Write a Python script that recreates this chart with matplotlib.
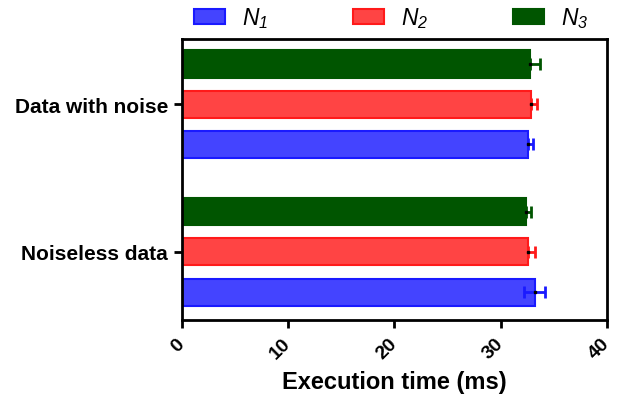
import matplotlib
matplotlib.use("Agg")
import matplotlib.pyplot as plt
import numpy as np

plt.rcParams['font.family'] = ['Liberation Sans', 'DejaVu Sans']
plt.rcParams['mathtext.fontset'] = 'custom'
plt.rcParams['mathtext.it'] = 'Liberation Sans:italic'
plt.rcParams['mathtext.rm'] = 'Liberation Sans:italic'

categories = ["Noiseless data", "Data with noise"]
series = [r"$N_{1}$", r"$N_{2}$", r"$N_{3}$"]
n1_vals = [33.2, 32.6]
n2_vals = [32.6, 32.9]
n3_vals = [32.4, 32.75]
# upper / lower error extents (ms)
n1_err_hi = [1.0, 0.4]
n2_err_hi = [0.6, 0.5]
n3_err_hi = [0.5, 1.0]
n1_err_lo = [1.0, 0.0]
n2_err_lo = [0.0, 0.0]
n3_err_lo = [0.0, 0.0]
xticks = [0, 10, 20, 30, 40]

fills = ["#4444ff", "#ff4444", "#005500"]
edges = ["#1a1aff", "#ff1a1a", "#005500"]

fig = plt.figure(figsize=(6.18, 4.02), dpi=100)
ax = fig.add_axes([0.2945, 0.2015, 0.6875, 0.699])

y = np.arange(len(categories))
step = 0.271
height = 0.183
values = [n1_vals, n2_vals, n3_vals]
errs_hi = [n1_err_hi, n2_err_hi, n3_err_hi]
errs_lo = [n1_err_lo, n2_err_lo, n3_err_lo]
handles = []
for i, vals in enumerate(values):
    pos = y + (i - 1) * step
    bars = ax.barh(pos, vals, height=height, color=fills[i], edgecolor=edges[i],
                   linewidth=1.5, label=series[i], zorder=2)
    ax.errorbar(vals, pos, xerr=[errs_lo[i], errs_hi[i]], fmt='none',
                ecolor=edges[i], elinewidth=2, capsize=4, capthick=2, zorder=3)
    ax.plot(vals, pos, ls='none', marker='s', ms=2, color='black', zorder=4)
    handles.append(bars)

ax.set_xlim(0, 40)
ax.set_ylim(-0.46, 1.44)
ax.set_yticks(y)
ax.set_yticklabels(categories, fontsize=15, fontweight='bold')
ax.set_xticks(xticks)
ax.set_xticklabels([str(t) for t in xticks], fontsize=14, fontweight='bold',
                   rotation=45, ha='right', va='center', rotation_mode='anchor')
ax.set_xlabel("Execution time (ms)", fontsize=17, fontweight='bold', labelpad=6)

for s in ax.spines.values():
    s.set_linewidth(2)
ax.tick_params(axis='y', width=2, length=6, direction='out', pad=4)
ax.tick_params(axis='x', width=2, length=6, direction='out', pad=9)

leg = fig.legend(handles=handles, labels=series, loc='center left',
                 bbox_to_anchor=(194 / 618, 1 - 19 / 402), ncol=3,
                 frameon=False, fontsize=16.5, handlelength=1.35, handleheight=0.6,
                 handletextpad=0.75, columnspacing=3.7, borderpad=0,
                 borderaxespad=0)

fig.savefig("out.png", dpi=100)
